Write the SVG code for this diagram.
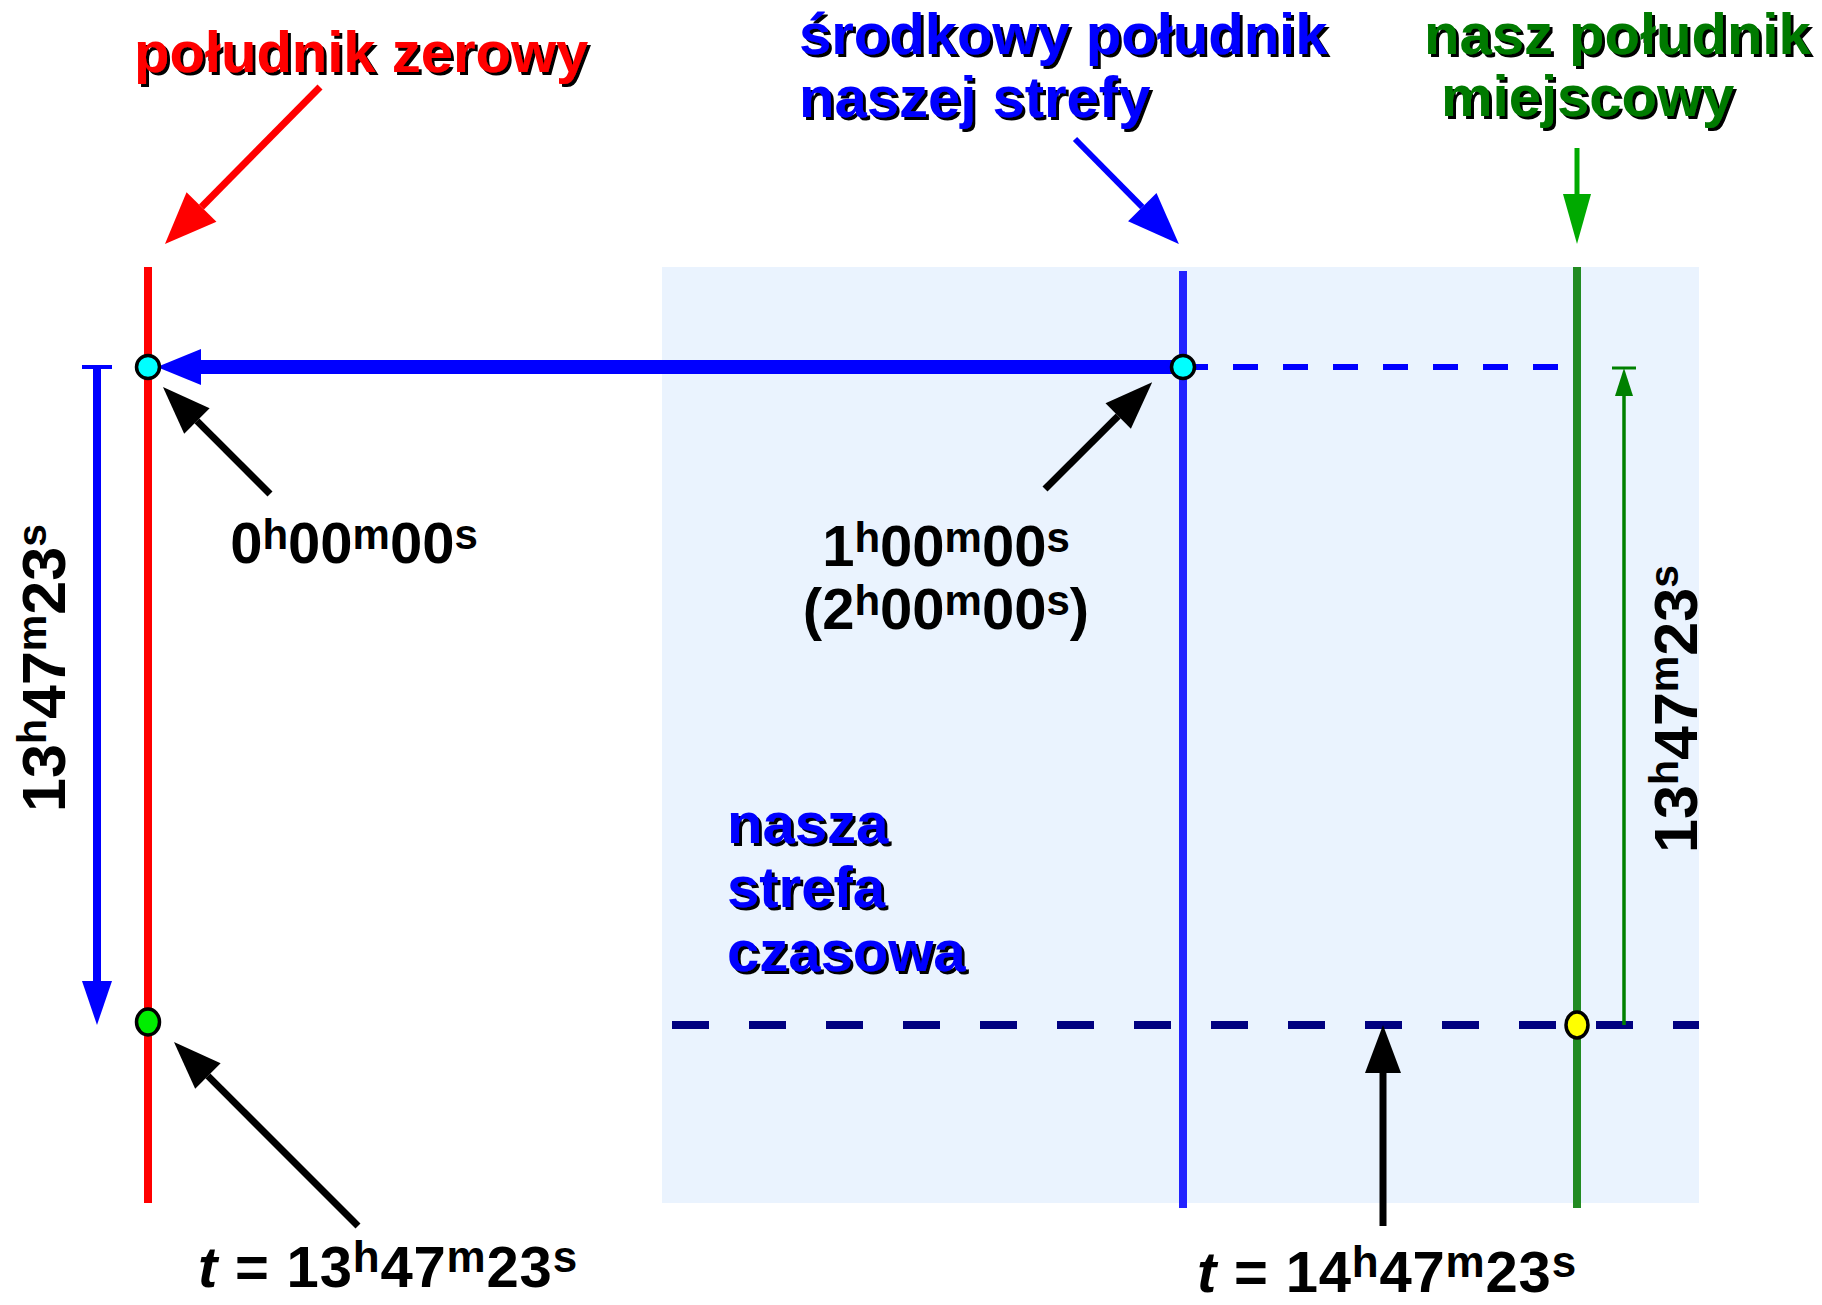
<svg xmlns="http://www.w3.org/2000/svg" width="1822" height="1305" viewBox="0 0 1822 1305">
<style>
text { font-family: "Liberation Sans", Arial, Helvetica, sans-serif; font-weight: bold; font-size: 58px; }
.title { filter: url(#shadow); }
.red { fill: #FF0000; }
.blue { fill: #0000FF; }
.green { fill: #007A00; }
.lbl { fill: #000000; }
.sup { font-size: 42px; }
.sup2 { font-size: 44px; }
.dim { font-size: 61px; }
.dsup { font-size: 41px; }
.ital { font-style: italic; }
.mer { stroke-width: 8; fill: none; }
.dot { stroke: #000; stroke-width: 3.5; }
</style>
<defs>
<filter id="shadow" x="-5%" y="-10%" width="115%" height="130%">
<feDropShadow dx="3" dy="3" stdDeviation="0.5" flood-color="#000" flood-opacity="1"/>
</filter>
<marker id="hRed" markerUnits="userSpaceOnUse" markerWidth="52" markerHeight="42" refX="0" refY="21" orient="auto" overflow="visible"><path d="M0,0 L52,21 L0,42 Z" fill="#FF0000"/></marker>
<marker id="hBlueT" markerUnits="userSpaceOnUse" markerWidth="52" markerHeight="40" refX="0" refY="20" orient="auto" overflow="visible"><path d="M0,0 L52,20 L0,40 Z" fill="#0000FF"/></marker>
<marker id="hGreenT" markerUnits="userSpaceOnUse" markerWidth="50" markerHeight="28" refX="0" refY="14" orient="auto" overflow="visible"><path d="M0,0 L50,14 L0,28 Z" fill="#00AA00"/></marker>
<marker id="hBlack" markerUnits="userSpaceOnUse" markerWidth="48" markerHeight="36" refX="0" refY="18" orient="auto" overflow="visible"><path d="M0,0 L48,18 L0,36 Z" fill="#000000"/></marker>
<marker id="hBlueBig" markerUnits="userSpaceOnUse" markerWidth="44" markerHeight="36" refX="0" refY="18" orient="auto" overflow="visible"><path d="M0,0 L44,18 L0,36 Z" fill="#0000FF"/></marker>
<marker id="hBlueDim" markerUnits="userSpaceOnUse" markerWidth="44" markerHeight="30" refX="0" refY="15" orient="auto" overflow="visible"><path d="M0,0 L44,15 L0,30 Z" fill="#0000FF"/></marker>
<marker id="hGreenDim" markerUnits="userSpaceOnUse" markerWidth="28" markerHeight="18" refX="0" refY="9" orient="auto" overflow="visible"><path d="M0,0 L28,9 L0,18 Z" fill="#008000"/></marker>
</defs>

<rect width="1822" height="1305" fill="#FFFFFF"/>

<g id="zone">
<rect x="662" y="267" width="1037" height="936" fill="#EAF3FE"/>
</g>

<g id="meridian-zero"><line class="mer" x1="148" y1="267" x2="148" y2="1203" stroke="#FF0000"/></g>
<g id="meridian-central"><line class="mer" x1="1183" y1="271" x2="1183" y2="1208" stroke="#2222FF"/></g>
<g id="meridian-local"><line class="mer" x1="1577" y1="267" x2="1577" y2="1208" stroke="#228B22"/></g>

<g id="connectors">
<line x1="1183" y1="367" x2="1560" y2="367" stroke="#0000FF" stroke-width="6" stroke-dasharray="25 25"/>
<line x1="672" y1="1025" x2="1699" y2="1025" stroke="#000080" stroke-width="8" stroke-dasharray="37 40"/>
<line x1="320" y1="87" x2="201.5" y2="207" stroke="#FF0000" stroke-width="7" marker-end="url(#hRed)"/>
<line x1="1075" y1="139" x2="1142.3" y2="207.1" stroke="#0000FF" stroke-width="6" marker-end="url(#hBlueT)"/>
<line x1="1577" y1="148" x2="1577" y2="194" stroke="#00AA00" stroke-width="5" marker-end="url(#hGreenT)"/>
<line x1="1183" y1="367" x2="201" y2="367" stroke="#0000FF" stroke-width="14" marker-end="url(#hBlueBig)"/>
<line x1="82" y1="367" x2="112" y2="367" stroke="#0000FF" stroke-width="4"/>
<line x1="97" y1="367" x2="97" y2="981" stroke="#0000FF" stroke-width="8" marker-end="url(#hBlueDim)"/>
<line x1="1612" y1="368" x2="1636" y2="368" stroke="#008000" stroke-width="3"/>
<line x1="1624" y1="1025" x2="1624" y2="396" stroke="#008000" stroke-width="3.5" marker-end="url(#hGreenDim)"/>
<line x1="270" y1="494" x2="196.9" y2="420.9" stroke="#000" stroke-width="7" marker-end="url(#hBlack)"/>
<line x1="1045" y1="489" x2="1118.2" y2="416.1" stroke="#000" stroke-width="7" marker-end="url(#hBlack)"/>
<line x1="358" y1="1226" x2="207.9" y2="1075.9" stroke="#000" stroke-width="7" marker-end="url(#hBlack)"/>
<line x1="1383" y1="1226" x2="1383" y2="1073" stroke="#000" stroke-width="7" marker-end="url(#hBlack)"/>
</g>

<g id="dot-zero"><circle class="dot" cx="148" cy="367" r="11.5" fill="#00FFFF"/></g>
<g id="dot-central"><circle class="dot" cx="1183" cy="367" r="11.5" fill="#00FFFF"/></g>
<g id="dot-green"><ellipse class="dot" cx="148" cy="1022" rx="11.5" ry="13" fill="#00EE00"/></g>
<g id="dot-yellow"><ellipse class="dot" cx="1577" cy="1025" rx="11" ry="13" fill="#FFFF00"/></g>

<g id="title-zero"><text class="title red" x="134" y="72">południk zerowy</text></g>
<g id="title-central"><text class="title blue" x="799" y="54">środkowy południk</text><text class="title blue" x="799" y="117">naszej strefy</text></g>
<g id="title-local"><text class="title green" x="1424" y="54">nasz południk</text><text class="title green" x="1441" y="116">miejscowy</text></g>
<g id="zone-label"><text class="title blue" x="727" y="843">nasza</text><text class="title blue" x="727" y="907">strefa</text><text class="title blue" x="727" y="971">czasowa</text></g>

<g id="label-0h"><text class="lbl" x="354" y="563" text-anchor="middle">0<tspan class="sup" dy="-14">h</tspan><tspan dy="14">00</tspan><tspan class="sup" dy="-14">m</tspan><tspan dy="14">00</tspan><tspan class="sup" dy="-14">s</tspan></text></g>
<g id="label-1h"><text class="lbl" x="946" y="566" text-anchor="middle">1<tspan class="sup" dy="-14">h</tspan><tspan dy="14">00</tspan><tspan class="sup" dy="-14">m</tspan><tspan dy="14">00</tspan><tspan class="sup" dy="-14">s</tspan></text>
<text class="lbl" x="946" y="629" text-anchor="middle">(2<tspan class="sup" dy="-14">h</tspan><tspan dy="14">00</tspan><tspan class="sup" dy="-14">m</tspan><tspan dy="14">00</tspan><tspan class="sup" dy="-14">s</tspan><tspan dy="14">)</tspan></text></g>
<g id="label-dim-left"><text class="lbl dim" transform="translate(65,668) rotate(-90)" text-anchor="middle">13<tspan class="dsup" dy="-19">h</tspan><tspan dy="19">47</tspan><tspan class="dsup" dy="-19">m</tspan><tspan dy="19">23</tspan><tspan class="dsup" dy="-19">s</tspan></text></g>
<g id="label-dim-right"><text class="lbl dim" transform="translate(1697,709) rotate(-90)" text-anchor="middle">13<tspan class="dsup" dy="-19">h</tspan><tspan dy="19">47</tspan><tspan class="dsup" dy="-19">m</tspan><tspan dy="19">23</tspan><tspan class="dsup" dy="-19">s</tspan></text></g>
<g id="label-t1"><text class="lbl" x="198" y="1287" letter-spacing="0.8"><tspan class="ital">t</tspan> = 13<tspan class="sup2" dy="-15">h</tspan><tspan dy="15">47</tspan><tspan class="sup2" dy="-15">m</tspan><tspan dy="15">23</tspan><tspan class="sup2" dy="-15">s</tspan></text></g>
<g id="label-t2"><text class="lbl" x="1387" y="1292" text-anchor="middle" letter-spacing="0.8"><tspan class="ital">t</tspan> = 14<tspan class="sup2" dy="-15">h</tspan><tspan dy="15">47</tspan><tspan class="sup2" dy="-15">m</tspan><tspan dy="15">23</tspan><tspan class="sup2" dy="-15">s</tspan></text></g>
</svg>
